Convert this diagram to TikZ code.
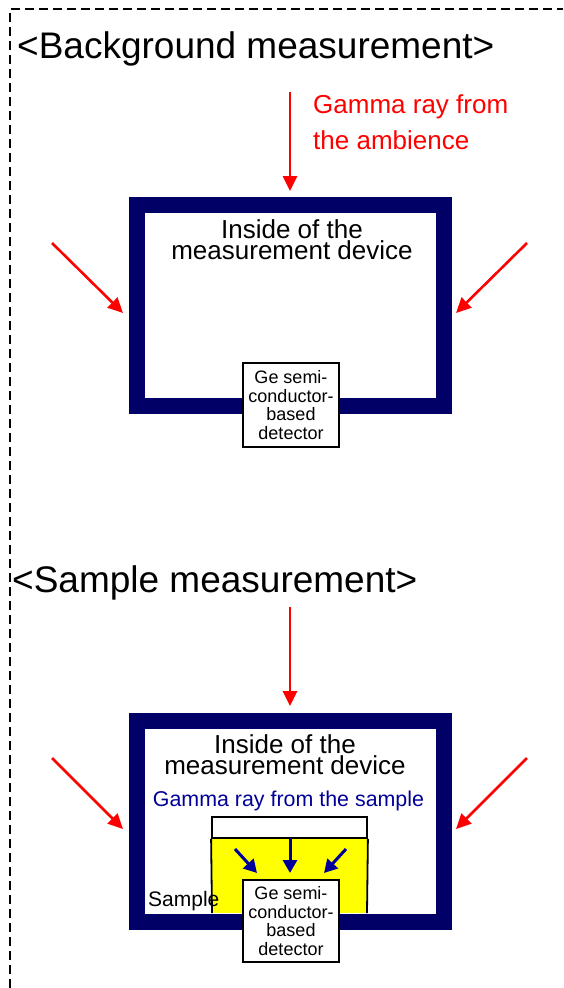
\documentclass[tikz,border=0pt]{standalone}
\usepackage{fontspec}
\setmainfont{Liberation Sans}
\usetikzlibrary{arrows.meta}
\definecolor{shield}{RGB}{0,0,102}
\definecolor{sgamma}{RGB}{0,0,153}
\definecolor{sampleyellow}{RGB}{255,255,0}
\begin{document}
\begin{tikzpicture}[x=1pt,y=-1pt,
  title/.style={anchor=base west,inner sep=0pt,font=\fontsize{37}{44}\selectfont},
  device/.style={draw=shield,line width=16pt,fill=white,minimum width=307pt,minimum height=201pt,inner sep=0pt},
  insidetext/.style={anchor=base,inner sep=0pt,align=center,font=\fontsize{26}{21}\selectfont},
  detector/.style={draw=black,line width=1.6pt,fill=white,minimum width=96pt,inner sep=0pt,align=center,font=\fontsize{18}{18.7}\selectfont},
  ambient/.style={draw=red,line width=2.6pt,-{Triangle[length=15pt,width=14pt]}},
  fromsample/.style={draw=sgamma,line width=3pt,-{Triangle[length=13pt,width=14pt]}},
  container/.style={draw=black,line width=1.8pt,inner sep=0pt},
]
\useasboundingbox (0,0) rectangle (563,988);
% frame
\draw[line width=2.2pt,dash pattern=on 9pt off 5pt] (10,988) -- (10,9) -- (563,9);

% ---------- background measurement ----------
\node[title] (title1) at (17,58) {<Background measurement>};
\node[device] (dev1) at (290.5,305.5) {};
\node[insidetext] (in1) at (292,259) {Inside of the\\measurement device};
\node[detector,minimum height=84pt] (det1) at (291,405) {Ge semi-\\conductor-\\based\\detector};
\node[anchor=base west,inner sep=0pt,align=left,text=red,font=\fontsize{26}{36}\selectfont] (amb) at (313,149) {Gamma ray from\\the ambience};
\coordinate (t1s) at (290,92);
\coordinate (t1e) at (290,191);
\coordinate (l1s) at (52,243);
\coordinate (l1e) at (123,313);
\coordinate (r1s) at (527,243);
\coordinate (r1e) at (456,313);
\draw[ambient] (t1s) -- (t1e);
\draw[ambient] (l1s) -- (l1e);
\draw[ambient] (r1s) -- (r1e);

% ---------- sample measurement ----------
\node[title] (title2) at (12,592) {<Sample measurement>};
\node[device] (dev2) at (290.5,821.5) {};
\node[insidetext] (in2) at (285,774) {Inside of the\\measurement device};
\node[anchor=base,inner sep=0pt,text=sgamma,font=\fontsize{21.4}{25}\selectfont] (sg) at (288.5,806) {Gamma ray from the sample};
\fill[sampleyellow] (212,838) rectangle (367,913);
\node[container,fill=white,minimum width=155pt,minimum height=21pt] (lid) at (289.5,827.5) {};
\draw[container] (lid.south west) -- (212,913);
\draw[container] (lid.south east) -- (367,913);
\node[anchor=base west,inner sep=0pt,font=\fontsize{21}{24}\selectfont] (samp) at (148,906) {Sample};
\coordinate (s1s) at (235,849);
\coordinate (s1e) at (257,873);
\coordinate (s2s) at (290,838);
\coordinate (s2e) at (290,873);
\coordinate (s3s) at (346,849);
\coordinate (s3e) at (324,873);
\draw[fromsample] (s1s) -- (s1e);
\draw[fromsample] (s2s) -- (s2e);
\draw[fromsample] (s3s) -- (s3e);
\node[detector,minimum height=82pt] (det2) at (291,921) {Ge semi-\\conductor-\\based\\detector};
\coordinate (t2s) at (290,607);
\coordinate (t2e) at (290,706);
\coordinate (l2s) at (52,758);
\coordinate (l2e) at (123,829);
\coordinate (r2s) at (527,758);
\coordinate (r2e) at (456,829);
\draw[ambient] (t2s) -- (t2e);
\draw[ambient] (l2s) -- (l2e);
\draw[ambient] (r2s) -- (r2e);
\end{tikzpicture}
\end{document}
